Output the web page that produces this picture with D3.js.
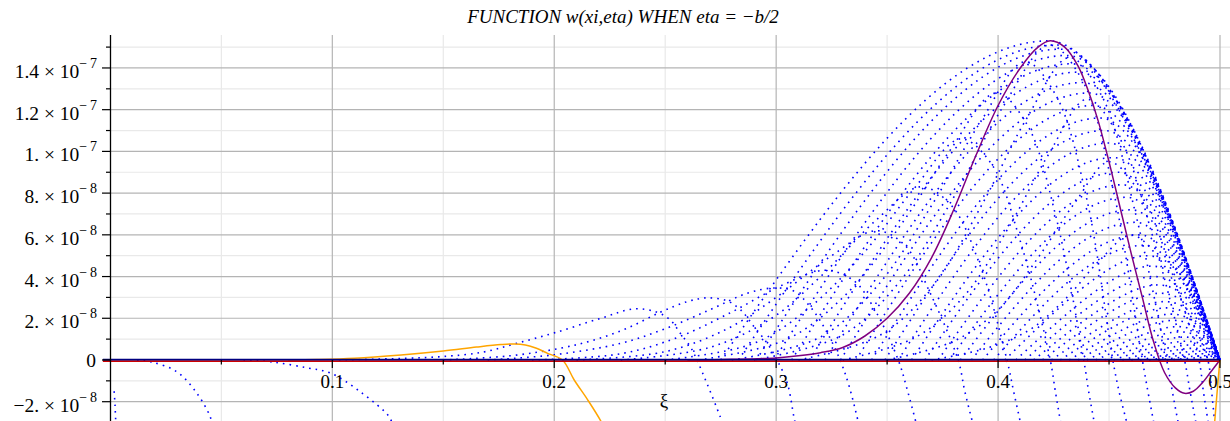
<!DOCTYPE html>
<html>
<head>
<meta charset="utf-8">
<script src="https://cdn.jsdelivr.net/npm/d3@7"></script>
<style>
  html, body { margin: 0; padding: 0; background: #ffffff; }
  svg { display: block; }
  text { font-family: "Liberation Serif", "Times New Roman", serif; fill: #000; }
</style>
</head>
<body>
<svg id="chart" width="1230" height="421"></svg>
<script>
// ---- values (y in units of 1e-8) ----
const Y_UNIT = 1e-8;
const title = "FUNCTION w(xi,eta) WHEN eta = \u2212b/2";
const xLabel = "\u03be";
const xTickValues = [0.1, 0.2, 0.3, 0.4, 0.5];
const xTickLabels = ["0.1", "0.2", "0.3", "0.4", "0.5"];
const xMinorTicks = [0.05, 0.15, 0.25, 0.35, 0.45];
const yTickValues = [-2, 0, 2, 4, 6, 8, 10, 12, 14];
const yTickMantissa = ["\u22122.", "0", "2.", "4.", "6.", "8.", "1.", "1.2", "1.4"];
const yTickExponent = ["\u22128", "", "\u22128", "\u22128", "\u22128", "\u22128", "\u22127", "\u22127", "\u22127"];
const yMinorTicks = [-1, 1, 3, 5, 7, 9, 11, 13, 15];

// solid purple curve
const purpleCurve = [[0.26,0],[0.28,0.03],[0.30,0.1],[0.31,0.2],[0.32,0.35],[0.33,0.6],[0.34,1.15],
  [0.35,2.0],[0.36,3.2],[0.37,4.9],[0.38,7.2],[0.39,9.8],[0.40,12.2],[0.41,14.0],[0.418,15.0],
  [0.4235,15.3],[0.43,15.0],[0.436,14.1],[0.441,12.8],[0.445,11.5],[0.45,9.5],[0.455,7.3],[0.46,5.1],
  [0.465,3.0],[0.47,0.9],[0.475,-0.6],[0.48,-1.35],[0.484,-1.6],[0.488,-1.5],[0.492,-1.1],[0.496,-0.55],[0.5,0]];

// solid orange curve (leaves the frame between the two pieces)
const orangeLeft = [[0.08,0],[0.093,0.02],[0.11,0.08],[0.131,0.24],[0.15,0.43],[0.165,0.62],[0.176,0.74],
  [0.182,0.77],[0.187,0.72],[0.192,0.56],[0.197,0.32],[0.2037,0],[0.209,-0.96],[0.215,-1.9],[0.221,-2.93],[0.224,-3.6]];
const orangeRight = [[0.4972,-3.5],[0.4985,-1.8],[0.4997,-0.3],[0.5,0]];

// dotted curves that turn down through the axis
const diveCurves = [
  [[0.0017,-1.5],[0.0021,-2.2],[0.0025,-3.2]],
  [[0.012,0],[0.0188,-0.1],[0.030,-0.57],[0.039,-1.6],[0.045,-2.73],[0.046,-3.2]],
  [[0.06,0],[0.0733,-0.1],[0.0887,-0.38],[0.099,-0.62],[0.1127,-1.53],[0.126,-2.78],[0.127,-3.2]],
  [[0.10,0],[0.146,0.14],[0.168,0.38],[0.182,0.77],[0.2,1.3],[0.221,2.0],[0.236,2.45],[0.246,2.3],
   [0.2523,1.92],[0.2568,1.28],[0.2613,0.64],[0.2643,0],[0.2688,-1.12],[0.2748,-2.72],[0.2765,-3.2]],
  [[0.15,0],[0.18,0.2],[0.203,0.57],[0.218,0.96],[0.233,1.53],[0.248,2.3],[0.26,2.8],[0.269,2.98],
   [0.278,2.83],[0.284,2.4],[0.29,1.6],[0.296,0.8],[0.3004,0],[0.305,-1.1],[0.308,-2.73],[0.309,-3.2]],
  [[0.17,0],[0.2,0.25],[0.23,0.8],[0.25,1.5],[0.27,2.4],[0.287,3.2],[0.299,3.45],[0.308,3.3],
   [0.315,2.6],[0.322,1.5],[0.3288,0],[0.333,-1.3],[0.3375,-3.2]],
  [[0.19,0],[0.23,0.3],[0.256,1.1],[0.28,2.3],[0.303,3.6],[0.322,4.3],[0.335,3.8],[0.345,2.3],[0.355,0],[0.359,-1.4],[0.3635,-3.2]],
  [[0.21,0],[0.25,0.4],[0.278,1.5],[0.3,3.0],[0.325,5.0],[0.345,6.2],[0.358,5.5],[0.369,3.3],[0.382,0],[0.385,-1.5],[0.389,-3.2]],
  [[0.23,0],[0.27,0.6],[0.298,2.0],[0.32,4.0],[0.345,6.7],[0.365,8.3],[0.379,7.4],[0.392,4.5],[0.404,0],[0.407,-1.5],[0.4105,-3.2]],
  [[0.25,0],[0.29,0.8],[0.316,2.6],[0.34,5.2],[0.362,8.2],[0.383,10.6],[0.397,9.4],[0.41,5.7],[0.4235,0],[0.4258,-1.5],[0.4285,-3.2]],
  [[0.265,0],[0.305,1.0],[0.332,3.2],[0.357,6.6],[0.378,10.0],[0.399,12.8],[0.413,11.3],[0.426,6.9],[0.4386,0],[0.4408,-1.5],[0.4437,-3.2]],
  [[0.28,0],[0.32,1.1],[0.346,3.6],[0.37,7.4],[0.392,11.4],[0.412,14.3],[0.426,12.7],[0.44,7.7],[0.4517,0],[0.4545,-1.5],[0.4585,-3.2]],
  [[0.29,0],[0.33,1.2],[0.356,3.8],[0.38,7.8],[0.402,12.1],[0.423,15.1],[0.438,13.4],[0.452,8.1],[0.465,0],[0.4675,-1.5],[0.4705,-3.2]],
  [[0.31,0],[0.347,1.2],[0.371,3.6],[0.393,7.5],[0.413,11.6],[0.432,14.5],[0.447,12.6],[0.462,7.0],[0.476,0],[0.4785,-1.5],[0.4815,-3.2]],
  [[0.33,0],[0.363,1.1],[0.385,3.1],[0.405,6.4],[0.423,9.9],[0.44,12.5],[0.455,10.6],[0.47,5.8],[0.484,0],[0.4865,-1.5],[0.4895,-3.2]],
  [[0.35,0],[0.38,0.9],[0.4,2.4],[0.418,4.9],[0.435,7.6],[0.45,9.5],[0.465,7.8],[0.479,4.0],[0.4905,0],[0.4925,-1.5],[0.495,-3.2]],
  [[0.37,0],[0.396,0.6],[0.415,1.5],[0.431,3.0],[0.446,4.8],[0.46,6.0],[0.473,4.8],[0.485,2.4],[0.4945,0],[0.4962,-1.5],[0.4978,-3.2]]
];

// dotted curves that come back to zero at xi = 0.5: start, peak position, peak value
const fanStart = [0.275,0.283,0.291,0.299,0.307,0.315,0.322,0.329,0.336,0.343,0.349,0.355,0.361,
  0.367,0.373,0.378,0.383,0.388,0.393,0.398,0.403,0.408,0.412,0.416,0.420,0.424,0.428,0.432,
  0.436,0.440,0.444,0.448,0.452,0.456,0.460,0.464,0.468,0.472,0.476];
const fanPeakX = [0.423,0.426,0.428,0.431,0.433,0.436,0.438,0.441,0.443,0.446,0.448,0.450,0.452,
  0.454,0.456,0.458,0.460,0.462,0.464,0.466,0.467,0.469,0.470,0.472,0.473,0.475,0.476,0.478,
  0.479,0.481,0.482,0.484,0.485,0.487,0.488,0.490,0.491,0.493,0.494];
const fanPeakY = [15.3,15.1,14.9,14.6,14.2,13.8,13.3,12.8,12.2,11.6,11.0,10.4,9.7,
  9.0,8.4,7.8,7.2,6.6,6.0,5.5,5.0,4.5,4.0,3.6,3.2,2.8,2.5,2.2,
  1.9,1.6,1.35,1.1,0.9,0.72,0.56,0.42,0.3,0.2,0.12];
const fanEnd = 0.5;

// ---- layout ----
const plotTop = 35, plotBottom = 421, plotLeft = 110.4, plotRight = 1230;
const x = d3.scaleLinear().domain([0, 0.5]).range([110.4, 1220]);
const y = d3.scaleLinear().domain([-2.925 * Y_UNIT, 15.58 * Y_UNIT]).range([plotBottom, plotTop]);

const svg = d3.select("#chart");

svg.append("defs").append("clipPath").attr("id", "plotClip")
  .append("rect").attr("x", plotLeft).attr("y", plotTop)
  .attr("width", plotRight - plotLeft).attr("height", plotBottom - plotTop);

// grid
const grid = svg.append("g");
grid.selectAll(".vminor").data(xMinorTicks).join("line")
  .attr("x1", d => x(d)).attr("x2", d => x(d)).attr("y1", plotTop).attr("y2", plotBottom)
  .attr("stroke", "#e9e9e9").attr("stroke-width", 1.2);
grid.selectAll(".hminor").data(yMinorTicks).join("line")
  .attr("x1", plotLeft).attr("x2", plotRight).attr("y1", d => y(d * Y_UNIT)).attr("y2", d => y(d * Y_UNIT))
  .attr("stroke", "#e9e9e9").attr("stroke-width", 1.2);
grid.selectAll(".vmajor").data(xTickValues).join("line")
  .attr("x1", d => x(d)).attr("x2", d => x(d)).attr("y1", plotTop).attr("y2", plotBottom)
  .attr("stroke", "#b4b4b4").attr("stroke-width", 1.2);
grid.selectAll(".hmajor").data(yTickValues.filter(v => v !== 0)).join("line")
  .attr("x1", plotLeft).attr("x2", plotRight).attr("y1", d => y(d * Y_UNIT)).attr("y2", d => y(d * Y_UNIT))
  .attr("stroke", "#b4b4b4").attr("stroke-width", 1.2);

// curves
const plot = svg.append("g").attr("clip-path", "url(#plotClip)");
const px = d => x(d[0]), py = d => y(d[1] * Y_UNIT);
const lineMono = d3.line().x(px).y(py).curve(d3.curveMonotoneX);
const lineNatural = d3.line().x(px).y(py).curve(d3.curveNatural);
const lineSmooth = d3.line().x(px).y(py).curve(d3.curveCatmullRom.alpha(0.5));

const dotted = { stroke: "#0000ff", width: 1.6, dash: "1.6 5" };

plot.selectAll(".dive").data(diveCurves).join("path")
  .attr("d", d => lineSmooth(d))
  .attr("fill", "none").attr("stroke", dotted.stroke).attr("stroke-width", dotted.width)
  .attr("stroke-dasharray", dotted.dash);

const fanCurves = fanStart.map((s, i) => [[s, 0], [fanPeakX[i], fanPeakY[i]], [fanEnd, 0]]);
plot.selectAll(".fan").data(fanCurves).join("path")
  .attr("d", d => (d[1][1] > 5 ? lineMono(d) : lineNatural(d)))
  .attr("fill", "none").attr("stroke", dotted.stroke).attr("stroke-width", dotted.width)
  .attr("stroke-dasharray", dotted.dash);

// zero line pair
const zeroLine = [[-0.0034, 0], [0.5, 0]];
const lineFlat = d3.line().x(px).y(py);
svg.append("path").attr("d", lineFlat(zeroLine)).attr("transform", "translate(0,1.1)")
  .attr("fill", "none").attr("stroke", "#cc0000").attr("stroke-width", 1.6);
svg.append("path").attr("d", lineFlat(zeroLine)).attr("transform", "translate(0,-0.4)")
  .attr("fill", "none").attr("stroke", "#000080").attr("stroke-width", 1.8);

plot.append("path").attr("d", lineSmooth(purpleCurve))
  .attr("fill", "none").attr("stroke", "#800080").attr("stroke-width", 1.5);
plot.append("path").attr("d", lineSmooth(orangeLeft))
  .attr("fill", "none").attr("stroke", "#ffa500").attr("stroke-width", 1.5);
plot.append("path").attr("d", lineSmooth(orangeRight))
  .attr("fill", "none").attr("stroke", "#ffa500").attr("stroke-width", 1.5);

// axes
const axisG = svg.append("g");
axisG.append("line").attr("x1", 110.5).attr("x2", 110.5).attr("y1", plotTop).attr("y2", plotBottom)
  .attr("stroke", "#000").attr("stroke-width", 1.3);
axisG.selectAll(".ytick").data(yTickValues).join("line")
  .attr("x1", 102).attr("x2", 110.5).attr("y1", d => y(d * Y_UNIT)).attr("y2", d => y(d * Y_UNIT))
  .attr("stroke", "#000").attr("stroke-width", 1.2);
axisG.selectAll(".ytickm").data(yMinorTicks).join("line")
  .attr("x1", 106).attr("x2", 110.5).attr("y1", d => y(d * Y_UNIT)).attr("y2", d => y(d * Y_UNIT))
  .attr("stroke", "#000").attr("stroke-width", 1.2);
axisG.selectAll(".xtick").data(xTickValues).join("line")
  .attr("x1", d => x(d)).attr("x2", d => x(d)).attr("y1", y(0)).attr("y2", y(0) + 8)
  .attr("stroke", "#000").attr("stroke-width", 1.2);
axisG.selectAll(".xtickm").data(xMinorTicks).join("line")
  .attr("x1", d => x(d)).attr("x2", d => x(d)).attr("y1", y(0)).attr("y2", y(0) + 4.5)
  .attr("stroke", "#000").attr("stroke-width", 1.2);

// tick labels
const yLab = svg.append("g");
yTickValues.forEach((v, i) => {
  const t = yLab.append("text").attr("text-anchor", "end").style("font-size", "19.5px");
  if (yTickExponent[i] === "") {
    t.attr("x", 96).attr("y", y(v * Y_UNIT) + 7).text(yTickMantissa[i]);
  } else {
    t.attr("x", 97).attr("y", y(v * Y_UNIT) + 10);
    t.append("tspan").text(yTickMantissa[i] + " \u00d7 10");
    t.append("tspan").attr("dy", -10).style("font-size", "14px")
      .text(yTickExponent[i].replace("\u2212", "\u2212\u2009"));
  }
});
svg.append("g").selectAll("text").data(xTickValues).join("text")
  .attr("x", d => x(d)).attr("y", y(0) + 28).attr("text-anchor", "middle")
  .style("font-size", "19px").text((d, i) => xTickLabels[i]);

svg.append("text").attr("x", 664).attr("y", 407).attr("text-anchor", "middle")
  .style("font-size", "19px").text(xLabel);

svg.append("text").attr("x", 623).attr("y", 23).attr("text-anchor", "middle")
  .style("font-size", "19px").style("font-style", "italic").text(title);
</script>
</body>
</html>
